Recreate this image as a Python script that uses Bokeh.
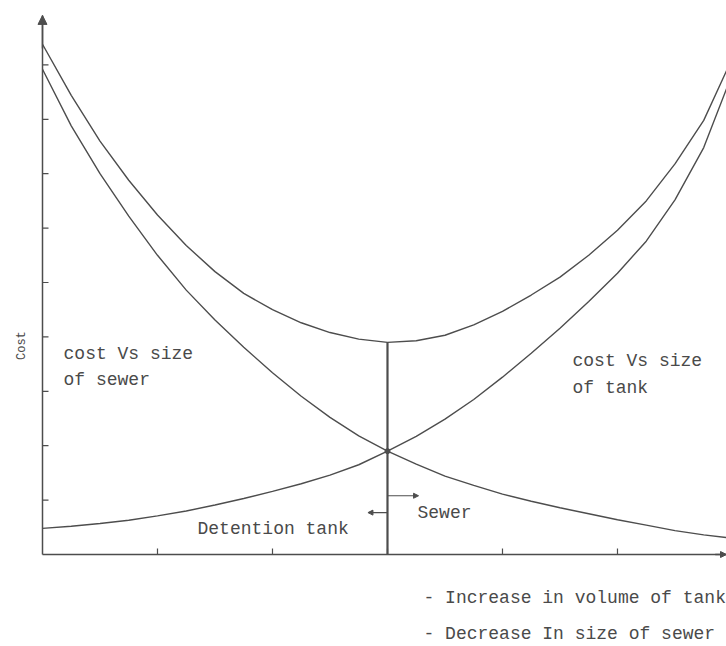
import math
from bokeh.plotting import figure
from bokeh.models import Range1d, FixedTicker, Label, Arrow, NormalHead
from bokeh.embed import file_html
from bokeh.resources import INLINE

# ---- data (x and y in tick units) ----
grid_x = [0.0, 0.25, 0.5, 0.75, 1.0, 1.25, 1.5, 1.75, 2.0, 2.25, 2.5, 2.75, 3.0,
          3.25, 3.5, 3.75, 4.0, 4.25, 4.5, 4.75, 5.0, 5.25, 5.5, 5.75, 5.95]

sewer_cost = [8.92, 7.88, 7.00, 6.22, 5.50, 4.86, 4.31, 3.81, 3.34, 2.91, 2.52, 2.18, 1.90,
              1.66, 1.44, 1.27, 1.11, 0.98, 0.86, 0.75, 0.64, 0.54, 0.44, 0.36, 0.31]

tank_cost = [0.48, 0.52, 0.57, 0.63, 0.71, 0.80, 0.91, 1.03, 1.16, 1.30, 1.46, 1.65, 1.90,
             2.17, 2.49, 2.85, 3.26, 3.70, 4.16, 4.65, 5.17, 5.76, 6.52, 7.48, 8.57]

total_cost = [9.38, 8.44, 7.60, 6.88, 6.24, 5.68, 5.20, 4.80, 4.50, 4.26, 4.08, 3.96, 3.90,
              3.93, 4.03, 4.22, 4.47, 4.77, 5.10, 5.50, 5.96, 6.50, 7.18, 7.98, 8.90]

optimum_x = 3.0
optimum_total = 3.90
crossing_cost = 1.90

x_ticks = [1, 2, 3, 4, 5]
y_ticks = [1, 2, 3, 4, 5, 6, 7, 8, 9]
x_end = 5.948
y_end = 9.91

axis_label = "Cost"
curve_labels = ["cost Vs size", "of sewer", "cost Vs size", "of tank"]
side_labels = ["Detention tank", "Sewer"]
bottom_labels = ["- Increase in volume of tank", "- Decrease In size of sewer"]

INK = "#4d4d4d"
TXT = "#4a4a4a"
FONT = "Liberation Mono"

p = figure(width=726, height=646,
           x_range=Range1d(-0.3652, x_end), y_range=Range1d(-1.691, 10.184),
           min_border_left=0, min_border_right=0, min_border_top=0, min_border_bottom=0,
           output_backend="svg", toolbar_location=None)
p.grid.visible = False
p.outline_line_color = None
p.background_fill_color = "white"

# axes drawn by Bokeh, pinned at the origin
p.xaxis.fixed_location = 0
p.yaxis.fixed_location = 0
p.xaxis.bounds = (0, x_end)
p.yaxis.bounds = (0, y_end)
for ax in (p.xaxis[0], p.yaxis[0]):
    ax.ticker = FixedTicker(ticks=[])
    ax.minor_tick_line_color = None
    ax.major_tick_line_color = None
    ax.axis_line_color = INK
    ax.axis_line_width = 1.5

# inward ticks
p.ray(x=[0] * len(y_ticks), y=y_ticks, length=6, length_units="screen", angle=0,
      line_color=INK, line_width=1.2)
p.ray(x=x_ticks, y=[0] * len(x_ticks), length=6, length_units="screen", angle=math.pi / 2,
      line_color=INK, line_width=1.2)

# curves
p.line(grid_x, sewer_cost, line_color=INK, line_width=1.4)
p.line(grid_x, tank_cost, line_color=INK, line_width=1.4)
p.line(grid_x, total_cost, line_color=INK, line_width=1.4)

# optimum vertical line and crossing dot
p.segment(x0=[optimum_x], y0=[0], x1=[optimum_x], y1=[optimum_total], line_color=INK, line_width=2.2)
p.scatter([optimum_x], [crossing_cost], size=5, color=INK)

# axis arrowheads
p.add_layout(Arrow(end=NormalHead(size=9, fill_color=INK, line_color=INK), line_color=INK, line_width=1.5,
                   x_start=0, y_start=9.3, x_end=0, y_end=y_end))
p.add_layout(Arrow(end=NormalHead(size=6, fill_color=INK, line_color=INK), line_color=INK, line_width=1.5,
                   x_start=5.85, y_start=0, x_end=x_end, y_end=0))

# small direction arrows at the optimum
p.add_layout(Arrow(end=NormalHead(size=5, fill_color=INK, line_color=INK), line_color=INK, line_width=1.2,
                   x_start=optimum_x, y_start=0.77, x_end=2.83, y_end=0.77))
p.add_layout(Arrow(end=NormalHead(size=5, fill_color=INK, line_color=INK), line_color=INK, line_width=1.2,
                   x_start=optimum_x, y_start=1.08, x_end=3.27, y_end=1.08))

def lab(text, x, y, size="18px", angle=0.0, align="left"):
    p.add_layout(Label(text=text, x=x, y=y, text_font=FONT, text_font_size=size,
                       text_color=TXT, text_baseline="middle", text_align=align, angle=angle))

lab(curve_labels[0], 0.183, 3.695)
lab(curve_labels[1], 0.183, 3.199)
lab(curve_labels[2], 4.609, 3.566)
lab(curve_labels[3], 4.609, 3.070)
lab(side_labels[0], 1.348, 0.478)
lab(side_labels[1], 3.261, 0.754)
lab(bottom_labels[0], 3.313, -0.80)
lab(bottom_labels[1], 3.313, -1.47)
lab(axis_label, -0.174, 3.84, size="12px", angle=math.pi / 2, align="center")

open("out.html", "w").write(file_html(p, INLINE))
